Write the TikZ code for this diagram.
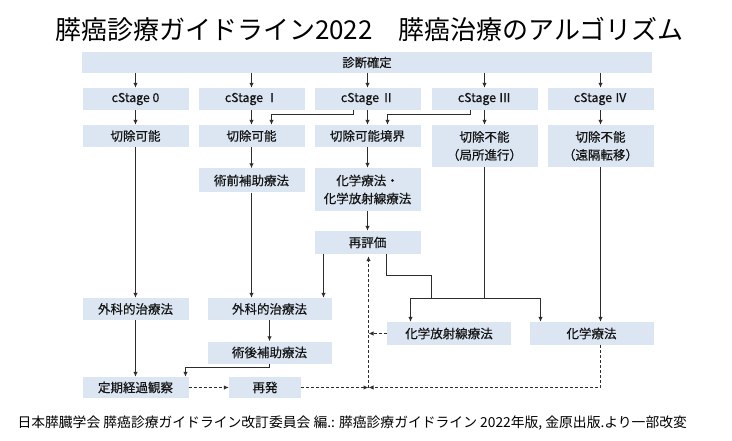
\documentclass[tikz,border=0pt]{standalone}
\usepackage{fontspec}
\setmainfont{Noto Sans CJK JP}
\newfontfamily\boxfont[FakeBold=0.5]{Noto Sans CJK JP}
\usetikzlibrary{arrows.meta}
\definecolor{C0}{RGB}{220,230,242}
\definecolor{C1}{RGB}{45,45,45}
\definecolor{C2}{RGB}{20,20,20}

\begin{document}
\begin{tikzpicture}[x=1pt,y=-1pt,
  box/.style={fill=C0,text=C2,inner sep=0pt,align=center,
    minimum width=106pt,minimum height=22pt,font=\boxfont\fontsize{12.5}{18}\selectfont},
  stagebox/.style={box,font=\boxfont\fontsize{12.3}{14}\selectfont},
  link/.style={draw=C1,line width=1.4pt},
  arr/.style={link,-{Latex[length=5pt,width=4.5pt]}},
  back/.style={arr,dash pattern=on 3pt off 2pt}]

  \useasboundingbox (0,0) rectangle (732,441);

  % Title.
  \node[font=\fontsize{26}{30}\selectfont] (title) at (369.5,29)
    {膵癌診療ガイドライン2022　膵癌治療のアルゴリズム};

  % Diagnosis and stages.
  \node[stagebox,minimum width=570pt,minimum height=21pt] (diag) at (367,62.5) {診断確定};
  \foreach \n/\x/\t in {0/135.5/0, 1/251.5/Ⅰ, 2/367.5/Ⅱ, 3/484.5/Ⅲ, 4/600.5/Ⅳ} {
    \node[stagebox] (st\n) at (\x,99) {cStage \t};
    \draw[arr] (diag.south -| st\n) -- (st\n.north);
  }

  % Resectability.
  \node[box] (res0) at (135.5,136) {切除可能};
  \node[box] (res1) at (251.5,136) {切除可能};
  \node[box] (bord) at (367.5,136) {切除可能境界};
  \node[box,minimum height=42pt] (unres3) at (484.5,146) {切除不能\\（局所進行）};
  \node[box,minimum height=42pt] (unres4) at (600.5,146) {切除不能\\（遠隔転移）};

  \draw[arr] (st0) -- (res0);
  \draw[arr] (st1) -- (res1);
  \draw[arr] (st2) -- (bord);
  \draw[arr] (st3) -- (unres3);
  \draw[arr] (st4) -- (unres4);
  \draw[arr] ([xshift=-14pt]st2.south) -- ++(0,4.5) -| ([xshift=20pt]res1.north);
  \draw[arr] ([xshift=-14pt]st3.south) -- ++(0,4.5) -| ([xshift=20pt]bord.north);

  % Preoperative therapy and re-evaluation.
  \node[box,minimum height=24pt] (neo) at (251.5,180.5) {術前補助療法};
  \node[box,minimum height=43pt] (chemo1) at (367.5,189.5) {化学療法・\\化学放射線療法};
  \node[box,minimum height=23pt] (reeval) at (367.5,242.5) {再評価};

  \draw[arr] (res1) -- (neo);
  \draw[arr] (bord) -- (chemo1);
  \draw[arr] (chemo1) -- (reeval);

  % Treatment row.
  \node[box] (surg0) at (135.5,309) {外科的治療法};
  \node[box,minimum width=124pt] (surg1) at (269.5,309) {外科的治療法};
  \node[box,minimum width=124pt] (adj) at (269.5,352.5) {術後補助療法};
  \node[box,minimum width=124pt,minimum height=23pt] (crt) at (449,333.5) {化学放射線療法};
  \node[box,minimum width=124pt,minimum height=23pt] (chemo) at (591.5,333.5) {化学療法};

  \draw[arr] (res0) -- (surg0);
  \draw[arr] (neo.south) -- (neo.south |- surg1.north);
  \draw[arr] ([xshift=-44pt]reeval.south) -- ([xshift=-44pt]reeval.south |- surg1.north);
  \draw[arr] (surg1) -- (adj);

  \coordinate (bar) at (484.5,298.5);
  \coordinate (turn) at (431.5,275.5);
  \draw[link] (unres3) -- (bar);
  \draw[link] ([xshift=19pt]reeval.south) |- (turn) -- (turn |- bar);
  \draw[arr] (bar) -| ([xshift=-38.5pt]crt.north);
  \draw[arr] (bar) -| ([xshift=-51pt]chemo.north);
  \draw[arr] (unres4.south) -- (unres4.south |- chemo.north);

  % Follow-up and recurrence.
  \node[box,minimum height=21pt] (obs) at (135.5,387.5) {定期経過観察};
  \node[box,minimum width=72pt,minimum height=21pt] (rec) at (265,387.5) {再発};

  \draw[arr] (surg0) -- (obs);
  \draw[arr] (adj.south) -- ++(0,4) -| ([xshift=50pt]obs.north);

  \coordinate (junc) at (368.5,387.5);
  \draw[back] (obs) -- (rec);
  \draw[back] (rec) -- (junc);
  \draw[back] ([xshift=9pt]chemo.south) |- (junc);
  \draw[back,shorten >=2pt] (junc) -- (junc |- reeval.south);
  \draw[back] (crt) -- (crt -| junc);

  % Source.
  \node[font=\fontsize{13.8}{16}\selectfont,anchor=west] (src) at (14,423)
    {日本膵臓学会 膵癌診療ガイドライン改訂委員会 編.: 膵癌診療ガイドライン 2022年版, 金原出版.より一部改変};

\end{tikzpicture}
\end{document}
